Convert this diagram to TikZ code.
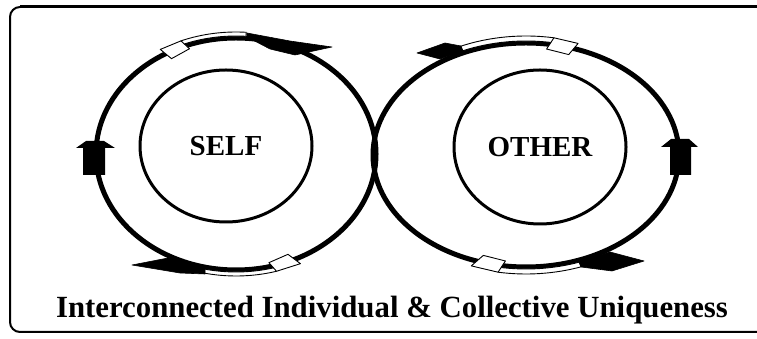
\documentclass[tikz,border=0pt]{standalone}
\usepackage{fontspec}
\setmainfont{Liberation Serif}
\usetikzlibrary{shapes.geometric, calc}

\begin{document}
\begin{tikzpicture}[
  x=1pt, y=1pt,
  orbit/.style={ellipse, draw, line width=5pt, inner sep=0pt},
  core/.style={ellipse, draw, line width=3pt, inner sep=0pt, minimum width=172pt, minimum height=152pt, font=\fontsize{29}{34}\selectfont\bfseries},
  ribbon/.style={fill=white, draw, line width=0.9pt, line join=round},
  dart/.style={fill=black, draw, line width=0.6pt, line join=round},
  blockup/.style={fill=black},
  caption/.style={font=\fontsize{30.8}{36}\selectfont\bfseries, inner sep=0pt}
]
  \useasboundingbox (0,0) rectangle (757,339);
  \draw[line width=2pt, rounded corners=10pt] (757,332) -- (10,332) -- (10,7) -- (757,7);
  \draw[line width=3pt] (20,332) -- (757,332);

  \node[orbit, minimum width=280pt, minimum height=232pt] (selfloop) at (236,185) {};
  \node[orbit, minimum width=306pt, minimum height=224pt] (otherloop) at (526,184) {};

  \node[core] (self) at (226,193) {SELF};
  \node[core, minimum height=154pt] (other) at (540,192) {OTHER};

  % self loop, top ribbon (to the right)
  \draw[ribbon] ($(selfloop.center)+(112:147 and 122)$) arc[start angle=112, end angle=86, x radius=147, y radius=122] -- ($(selfloop.center)+(86:143 and 118)$) arc[start angle=86, end angle=112, x radius=143, y radius=118] -- cycle;
  \draw[ribbon] ($(selfloop.center)+(121:147 and 122)$) -- ($(selfloop.center)+(112:147 and 122)$) -- ($(selfloop.center)+(110:136 and 112)$) -- ($(selfloop.center)+(119:133 and 109)$) -- cycle;
  \draw[dart] (247,306) -- (290,298) -- (332,292) -- (295,284) -- (270,290) -- (247,302) -- cycle;

  % self loop, bottom ribbon (to the left)
  \draw[ribbon] ($(selfloop.center)+(-74:147 and 122)$) arc[start angle=-74, end angle=-103, x radius=147, y radius=122] -- ($(selfloop.center)+(-103:143 and 118)$) arc[start angle=-103, end angle=-74, x radius=143, y radius=118] -- cycle;
  \draw[ribbon] ($(selfloop.center)+(-64:147 and 122)$) -- ($(selfloop.center)+(-74:147 and 122)$) -- ($(selfloop.center)+(-76:136 and 112)$) -- ($(selfloop.center)+(-67:133 and 109)$) -- cycle;
  \draw[dart] (205,65) -- (180,66) -- (132,74) -- (168,81) -- (205,73) -- cycle;

  % other loop, top ribbon (to the left)
  \draw[ribbon] ($(otherloop.center)+(80:161 and 119)$) arc[start angle=80, end angle=114, x radius=161, y radius=119] -- ($(otherloop.center)+(114:156 and 114)$) arc[start angle=114, end angle=80, x radius=156, y radius=114] -- cycle;
  \draw[ribbon] ($(otherloop.center)+(71:160 and 118)$) -- ($(otherloop.center)+(80:161 and 119)$) -- ($(otherloop.center)+(82:148 and 107)$) -- ($(otherloop.center)+(73:146 and 105)$) -- cycle;
  \draw[dart] (461,293) -- (445,296) -- (417,286) -- (440,280) -- (463,288) -- cycle;

  % other loop, bottom ribbon (to the right)
  \draw[ribbon] ($(otherloop.center)+(-100:161 and 119)$) arc[start angle=-100, end angle=-70, x radius=161, y radius=119] -- ($(otherloop.center)+(-70:156 and 114)$) arc[start angle=-70, end angle=-100, x radius=156, y radius=114] -- cycle;
  \draw[ribbon] ($(otherloop.center)+(-110:160 and 118)$) -- ($(otherloop.center)+(-100:161 and 119)$) -- ($(otherloop.center)+(-98:148 and 107)$) -- ($(otherloop.center)+(-107:146 and 105)$) -- cycle;
  \draw[dart] (581,72) -- (612,68) -- (644,78) -- (610,87) -- (579,77) -- cycle;

  % upward block arrows
  \fill[blockup] (76,191) -- (86,198) -- (104,198) -- (115,191) -- (105,191) -- (105,164) -- (83,164) -- (83,191) -- cycle;
  \fill[blockup] (661,192) -- (671,200) -- (689,200) -- (698,192) -- (691,192) -- (691,164) -- (670,164) -- (670,192) -- cycle;

  \node[caption, anchor=base] (title) at (392,21) {Interconnected Individual \& Collective Uniqueness};
\end{tikzpicture}
\end{document}
